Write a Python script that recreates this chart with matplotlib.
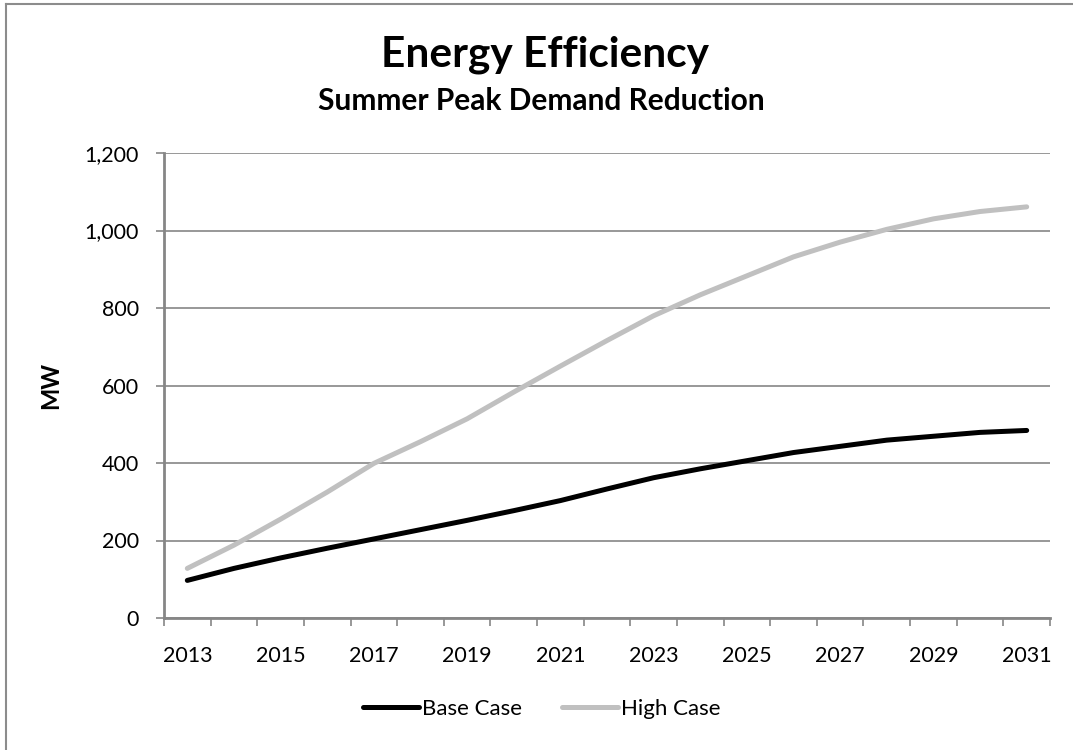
import numpy as np
import matplotlib.pyplot as plt
from matplotlib.lines import Line2D

# Summer peak demand reduction (MW)
years = list(range(2013, 2032))
base_case = [97, 128, 155, 180, 204, 228, 252, 277, 303, 333, 362, 385, 406, 427, 443, 459, 469, 479, 484]
high_case = [128, 188, 255, 325, 399, 455, 514, 583, 650, 716, 780, 834, 883, 932, 970, 1003, 1030, 1049, 1061]
y_ticks = [0, 200, 400, 600, 800, 1000, 1200]

plt.rcParams['font.family'] = ['Lato', 'DejaVu Sans']
grid_col = '#868686'

fig = plt.figure(figsize=(10.73, 7.5), dpi=100)
ax = fig.add_axes([164 / 1073, 1 - 618 / 750, (1050 - 164) / 1073, (618 - 153) / 750])

x = np.arange(len(years))
ax.plot(x, base_case, color='black', lw=3.6, solid_capstyle='round', label='Base Case', zorder=3)
ax.plot(x, high_case, color='#C0C0C0', lw=3.6, solid_capstyle='round', label='High Case', zorder=3)

ax.set_xlim(-0.5, len(years) - 0.5)
ax.set_ylim(0, 1200)

# y axis
ax.set_yticks(y_ticks)
ax.set_yticklabels([f'{v:,}' for v in y_ticks])
ax.yaxis.grid(True, color=grid_col, lw=1.2)
ax.tick_params(axis='y', length=6, width=1.2, color=grid_col, labelsize=15.5, pad=12)

# x axis: labels every other year, tick marks between categories
ax.set_xticks(x[::2])
ax.set_xticklabels([str(y) for y in years[::2]])
ax.set_xticks(np.arange(-0.5, len(years)), minor=True)
ax.tick_params(axis='x', which='major', length=0, labelsize=15.5, pad=20)
ax.tick_params(axis='x', which='minor', length=6, width=1.2, color=grid_col)

for s in ['top', 'right']:
    ax.spines[s].set_visible(False)
for s in ['left', 'bottom']:
    ax.spines[s].set_color(grid_col)
    ax.spines[s].set_linewidth(2)
ax.set_axisbelow(True)

ax.set_ylabel('MW', fontsize=17, fontweight='bold', labelpad=16)

fig.text(545 / 1073, 1 - 67 / 750, 'Energy Efficiency', ha='center', va='baseline',
         fontsize=30.5, fontweight='bold')
fig.text(541 / 1073, 1 - 110 / 750, 'Summer Peak Demand Reduction', ha='center', va='baseline',
         fontsize=21.5, fontweight='bold')

fig.legend(loc='center', bbox_to_anchor=(542 / 1073, 1 - 709 / 750), ncol=2, frameon=False,
           fontsize=16, handlelength=2.5, handletextpad=0.15, columnspacing=1.8)

# chart frame (only top and left edges fall inside the picture)
fig.add_artist(Line2D([6 / 1073, 1], [1 - 4 / 750, 1 - 4 / 750], color='#8c8c8c', lw=1.5))
fig.add_artist(Line2D([6 / 1073, 6 / 1073], [0, 1 - 4 / 750], color='#8c8c8c', lw=1.5))

fig.savefig('out.png', dpi=100)
